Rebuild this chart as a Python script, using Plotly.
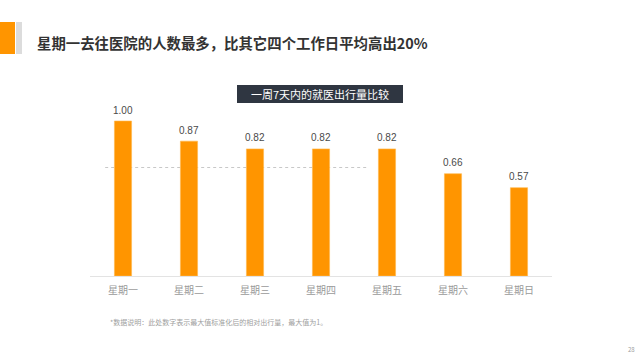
import plotly.graph_objects as go

days = ["星期一", "星期二", "星期三", "星期四", "星期五", "星期六", "星期日"]
values = [1.00, 0.87, 0.82, 0.82, 0.82, 0.66, 0.57]
value_labels = ["1.00", "0.87", "0.82", "0.82", "0.82", "0.66", "0.57"]
ref_level = 0.70

title_text = "星期一去往医院的人数最多，比其它四个工作日平均高出20%"
box_text = "一周7天内的就医出行量比较"
note_text = "*数据说明：此处数字表示最大值标准化后的相对出行量，最大值为1。"
page_no = "28"

FONT = "Noto Sans CJK SC"
ORANGE = "#FF9500"

fig = go.Figure()
fig.add_trace(go.Bar(
    x=days, y=values, width=0.26,
    marker=dict(color=ORANGE, line=dict(color="#FFB84D", width=0.6)),
    hoverinfo="skip",
))
# value labels above each bar
for d, v, lab in zip(days, values, value_labels):
    fig.add_annotation(x=d, y=v, xref="x", yref="y", text=lab, showarrow=False,
                       xanchor="center", yanchor="middle", yshift=11,
                       font=dict(family="Liberation Sans", size=10, color="#4A4A4A"))

W, H = 640, 360
left, right = 90, 552
bottom = 276
top = bottom - 1.2 * 155

fig.update_layout(
    width=W, height=H,
    margin=dict(l=left, r=W - right, t=top, b=H - bottom, pad=0, autoexpand=False),
    paper_bgcolor="white", plot_bgcolor="white",
    showlegend=False,
    bargap=0.74,
    font=dict(family=FONT),
)
fig.update_xaxes(
    range=[-0.5, 6.5], showgrid=False, zeroline=False,
    showline=True, linecolor="#E3E3E3", linewidth=1,
    ticks="", tickfont=dict(family=FONT, size=10, color="#9A9A9A"),
    ticklabelstandoff=5,
)
fig.update_yaxes(range=[0, 1.2], visible=False, showgrid=False, zeroline=False)

# reference dotted line
fig.add_shape(type="line", xref="x", yref="y", x0=-0.27, x1=3.70,
              y0=ref_level, y1=ref_level,
              line=dict(color="#C8C8C8", width=1, dash="dot"), layer="below")

def px(x):
    return (x - left) / (right - left)

def py(y):
    return (bottom - y) / (bottom - top)

# header decorations
fig.add_shape(type="rect", xref="paper", yref="paper",
              x0=px(0), x1=px(15), y0=py(54), y1=py(22),
              fillcolor=ORANGE, line=dict(width=0))
fig.add_shape(type="rect", xref="paper", yref="paper",
              x0=px(16), x1=px(22), y0=py(54), y1=py(22),
              fillcolor="#DCDCDC", line=dict(width=0))
# dark label box
fig.add_shape(type="rect", xref="paper", yref="paper",
              x0=px(237), x1=px(403), y0=py(103), y1=py(85),
              fillcolor="#2F3641", line=dict(width=0))

fig.add_annotation(text=title_text, xref="paper", yref="paper",
                   x=px(35), y=py(42), xanchor="left", yanchor="middle",
                   showarrow=False,
                   font=dict(family=FONT, size=14.4, color="#333333", weight="bold"))
fig.add_annotation(text=box_text, xref="paper", yref="paper",
                   x=px(320), y=py(94), xanchor="center", yanchor="middle",
                   showarrow=False,
                   font=dict(family=FONT, size=11, color="white"))
fig.add_annotation(text=note_text, xref="paper", yref="paper",
                   x=px(108), y=py(322), xanchor="left", yanchor="middle",
                   showarrow=False,
                   font=dict(family=FONT, size=7, color="#A0A0A0"))
fig.add_annotation(text=page_no, xref="paper", yref="paper",
                   x=px(631), y=py(349), xanchor="center", yanchor="middle",
                   showarrow=False,
                   font=dict(family=FONT, size=6, color="#A0A0A0"))

fig.write_html("out.html", config={"displayModeBar": False},
               post_script="document.body.style.margin='0';document.body.style.overflow='hidden';")
